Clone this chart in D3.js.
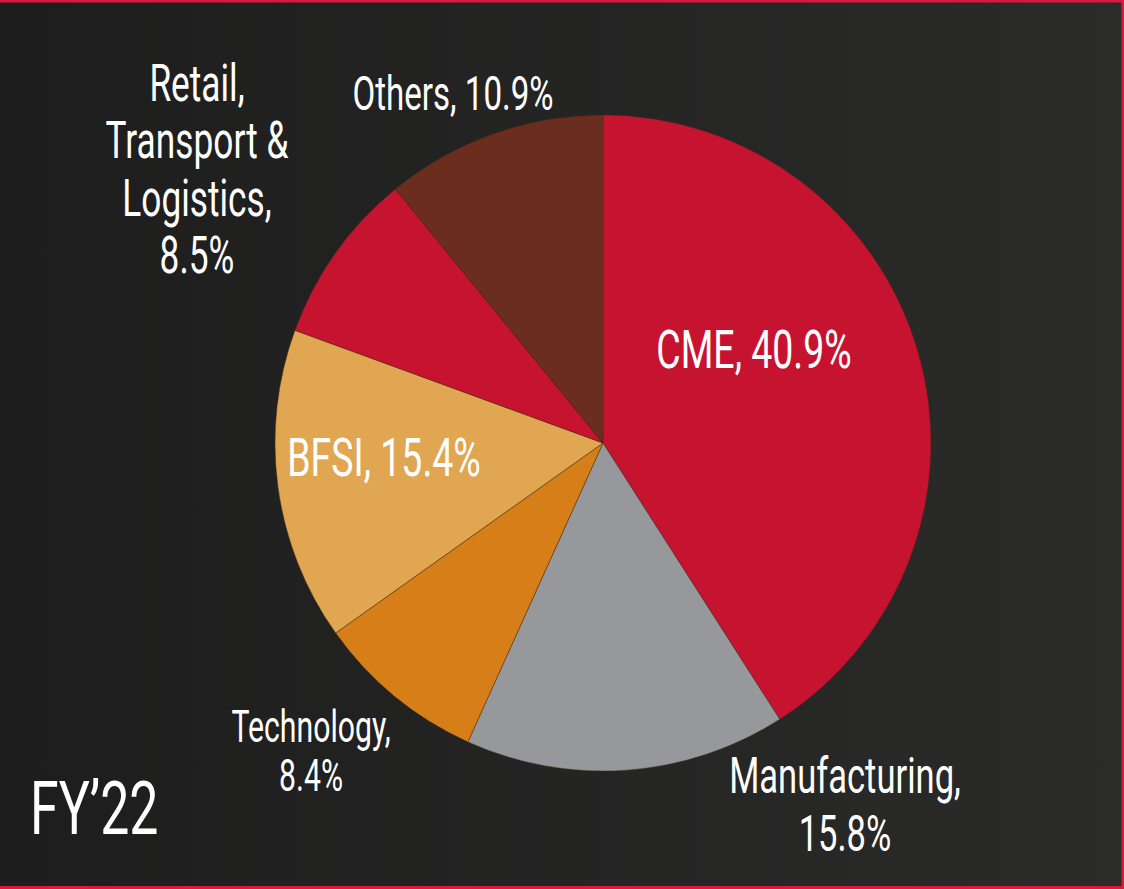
<!DOCTYPE html>
<html>
<head>
<meta charset="utf-8">
<script src="https://cdn.jsdelivr.net/npm/d3@7"></script>
<style>
  html, body { margin: 0; padding: 0; background: #1e1e1e; overflow: hidden; }
  text { font-family: Roboto, "Noto Sans", sans-serif; fill: #ffffff; }
</style>
</head>
<body>
<script>
// segment data (FY'22 revenue mix)
var segments = ["CME", "Manufacturing", "Technology", "BFSI", "Retail, Transport & Logistics", "Others"];
var shares = [40.9, 15.8, 8.4, 15.4, 8.5, 10.9];
var colors = ["#c61430", "#97989c", "#d67f18", "#e0a652", "#c61430", "#6b2d1e"];
// label lines for each slice
var labelLines = [
  ["CME, 40.9%"],
  ["Manufacturing,", "15.8%"],
  ["Technology,", "8.4%"],
  ["BFSI, 15.4%"],
  ["Retail,", "Transport &", "Logistics,", "8.5%"],
  ["Others, 10.9%"]
];
var yearLabel = "FY\u201922";

var width = 1124, height = 889;
var cx = 603, cy = 443, radius = 328;
var squeeze = 0.72; // narrow the font to look condensed

var svg = d3.select("body").append("svg")
  .attr("width", width)
  .attr("height", height);

// background
var defs = svg.append("defs");
var grad = defs.append("linearGradient")
  .attr("id", "bg")
  .attr("x1", "0%").attr("y1", "0%")
  .attr("x2", "100%").attr("y2", "0%");
grad.append("stop").attr("offset", "0%").attr("stop-color", "#1d1d1d");
grad.append("stop").attr("offset", "100%").attr("stop-color", "#2b2b2a");

svg.append("rect")
  .attr("width", width).attr("height", height)
  .attr("fill", "url(#bg)");

// red frame (top, right, bottom)
svg.append("rect").attr("x", 0).attr("y", 0).attr("width", width).attr("height", 2.5).attr("fill", "#e0163a");
svg.append("rect").attr("x", width - 2.5).attr("y", 0).attr("width", 2.5).attr("height", height).attr("fill", "#e0163a");
svg.append("rect").attr("x", 0).attr("y", height - 3).attr("width", width).attr("height", 3).attr("fill", "#e0163a");

// pie
var pie = d3.pie().sort(null).value(function(d) { return d; });
var arc = d3.arc().innerRadius(0).outerRadius(radius);
var arcs = pie(shares);

var pieGroup = svg.append("g")
  .attr("transform", `translate(${cx}, ${cy})`);

pieGroup.selectAll("path")
  .data(arcs)
  .enter()
  .append("path")
  .attr("d", arc)
  .attr("fill", function(d, i) { return colors[i]; })
  .attr("stroke", "rgba(70,40,20,0.55)")
  .attr("stroke-width", 0.8);

// label placement: [centre x, first baseline, font size, line step]
var labelPos = [
  [754, 368, 52, 0],
  [845, 793, 48, 58],
  [311, 742, 42, 49],
  [384, 476, 52, 0],
  [197, 101, 49, 57.5],
  [453, 110, 46, 0]
];

labelLines.forEach(function(lines, i) {
  var p = labelPos[i];
  var g = svg.append("g")
    .attr("transform", `translate(${p[0]}, ${p[1]}) scale(${squeeze}, 1.04)`);
  lines.forEach(function(line, j) {
    g.append("text")
      .attr("x", 0)
      .attr("y", j * p[3] / 1.04)
      .attr("text-anchor", "middle")
      .attr("font-size", p[2])
      .text(line);
  });
});

// year tag
svg.append("g")
  .attr("transform", `translate(30, 834) scale(${squeeze}, 1.04)`)
  .append("text")
  .attr("font-size", 72)
  .text(yearLabel);
</script>
</body>
</html>
